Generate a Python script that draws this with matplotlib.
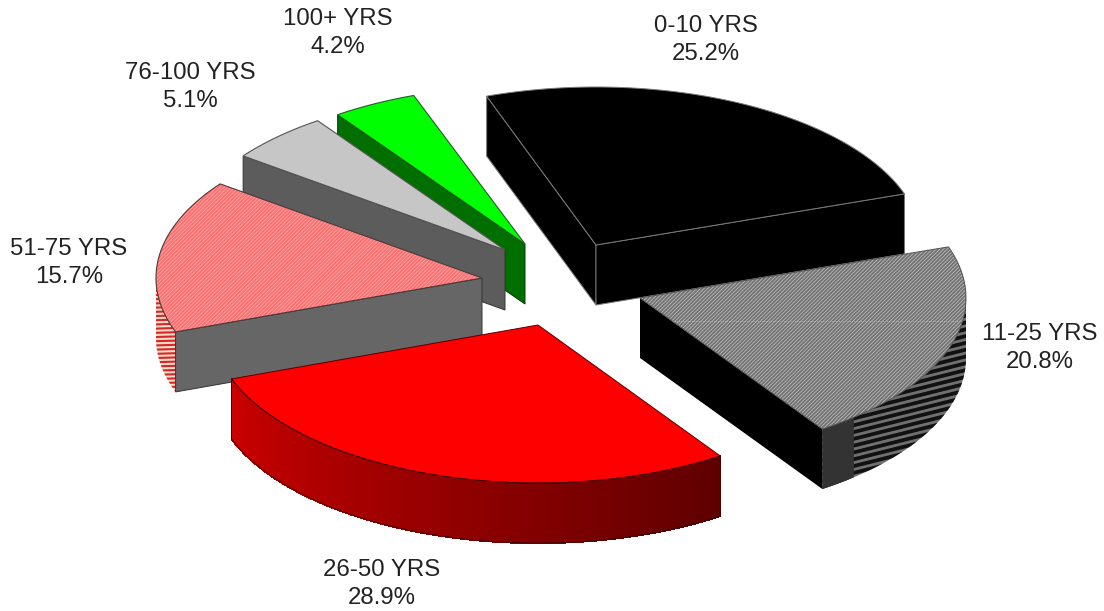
#!/usr/bin/env python3
import numpy as np
import matplotlib
matplotlib.use("Agg")
import matplotlib.pyplot as plt
from matplotlib.patches import Polygon


CATEGORIES = ["0-10 YRS", "11-25 YRS", "26-50 YRS", "51-75 YRS", "76-100 YRS", "100+ YRS"]
SHARES = [25.2, 20.8, 28.9, 15.7, 5.1, 4.2]

# layout of the fake 3d pie, in pixels of the reference
START_ANGLE = 109.6
RX, RY = 326, 158
DEPTH = 60
APEX = [(596, 245), (640, 298), (538, 325), (482, 278), (505, 250), (525, 244)]
LABEL_POS = [(706, 40), (1040, 348), (382, 584), (69, 263), (190, 87), (338, 33)]
DRAW_ORDER = [0, 5, 4, 3, 2, 1]

plt.rcParams["font.family"] = ["Liberation Sans", "DejaVu Sans"]
plt.rcParams["hatch.linewidth"] = 0.45


def arc(apex, a0, a1, drop=0):
    t = np.radians(np.linspace(a0, a1, max(int(abs(a1 - a0)) * 2, 2)))
    return np.column_stack([apex[0] + RX * np.cos(t), apex[1] - RY * np.sin(t) + drop])


def slice_angles():
    ends = START_ANGLE - np.cumsum(SHARES) * 3.6
    starts = np.r_[START_ANGLE, ends[:-1]]
    return starts, ends


def add_poly(ax, pts, face, edge="none", lw=0.8, **kw):
    patch = Polygon(pts, closed=True, facecolor=face, edgecolor=edge, linewidth=lw, **kw)
    ax.add_patch(patch)
    return patch


def cut_face(ax, apex, angle, face, edge="none"):
    rim = arc(apex, angle, angle + 1)[0]
    pts = [apex, rim, (rim[0], rim[1] + DEPTH), (apex[0], apex[1] + DEPTH)]
    add_poly(ax, pts, face, edge, lw=0.7)


def rim_band(apex, a0, a1):
    return np.vstack([arc(apex, a0, a1), arc(apex, a1, a0, DEPTH)])


def striped_rim(ax, apex, a0, a1, base, stripe, spacing, slope, lw):
    band = add_poly(ax, rim_band(apex, a0, a1), base)
    xs = np.array([apex[0] - RX - 20, apex[0] + RX + 20])
    for y in np.arange(apex[1] - 100, apex[1] + 400, spacing):
        line, = ax.plot(xs, y + slope * (xs - xs[0]), color=stripe, lw=lw,
                        solid_capstyle="butt", zorder=1)
        line.set_clip_path(band)


def top_face(ax, apex, a0, a1, face, edge="none", lw=0.8, hatch=None, hatch_color=None):
    pts = np.vstack([[apex], arc(apex, a0, a1)])
    if hatch:
        patch = add_poly(ax, pts, face, hatch_color, lw=0, hatch=hatch)
        add_poly(ax, pts, "none", edge, lw=lw)
        return patch
    return add_poly(ax, pts, face, edge, lw=lw)


def draw_slice(ax, i, a0, a1):
    apex = APEX[i]
    if i == 0:
        cut_face(ax, apex, a0, "black", "#777777")
        cut_face(ax, apex, a1, "black", "#777777")
        top_face(ax, apex, a0, a1, "black", "#7a7a7a", 0.7)
    elif i == 1:
        cut_face(ax, apex, a1, "black")
        striped_rim(ax, apex, 0, a1, "#707070", "#111111", 6.8, -0.25, 2.7)
        add_poly(ax, rim_band(apex, a1, a1 + 7), "#333333")
        face = top_face(ax, apex, a0, a1, "#737373", "#555555", 0.7, "/////////", "#cccccc")
        dots, = ax.plot([apex[0], apex[0] + RX], [321, 321], color="#d0d0d0", lw=0.5, ls=":")
        dots.set_clip_path(face)
    elif i == 2:
        t = np.linspace(a1, a0, 90)
        for k in range(len(t) - 1):
            col = (0.80 - 0.43 * k / (len(t) - 2), 0, 0)
            add_poly(ax, rim_band(apex, t[k], t[k + 1]), col, col, lw=0.8, antialiased=False)
        top_face(ax, apex, a0, a1, "#ff0000", "#5a0000", 0.7)
        add_poly(ax, rim_band(apex, a1, a0), "none", "#3a0000", lw=0.6)
    elif i == 3:
        striped_rim(ax, apex, -180, a0, "#f2dcc4", "#d8242c", 4.2, -0.03, 1.5)
        cut_face(ax, apex, a0, "#666666", "#333333")
        top_face(ax, apex, a0, a1, "#fb7070", "#4a3a3a", 0.8, "/////////", "#ffb4b4")
    elif i == 4:
        cut_face(ax, apex, a0, "#5c5c5c", "#333333")
        top_face(ax, apex, a0, a1, "#c6c6c6", "#555555", 0.8)
    else:
        cut_face(ax, apex, a0, "#006f00", "#003a00")
        top_face(ax, apex, a0, a1, "#00ff00", "#2a5a2a", 0.8)


def main():
    fig = plt.figure(figsize=(11.04, 6.11), dpi=100)
    ax = fig.add_axes([0, 0, 1, 1])
    ax.set_xlim(0, 1104)
    ax.set_ylim(611, 0)
    ax.axis("off")

    starts, ends = slice_angles()
    for i in DRAW_ORDER:
        draw_slice(ax, i, starts[i], ends[i])

    for cat, share, (x, y) in zip(CATEGORIES, SHARES, LABEL_POS):
        ax.text(x, y, f"{cat}\n{share}%", ha="center", va="center", fontsize=17.3,
                color="#222222", linespacing=1.32)

    fig.savefig("out.png", dpi=100)
    plt.close(fig)


if __name__ == "__main__":
    main()
